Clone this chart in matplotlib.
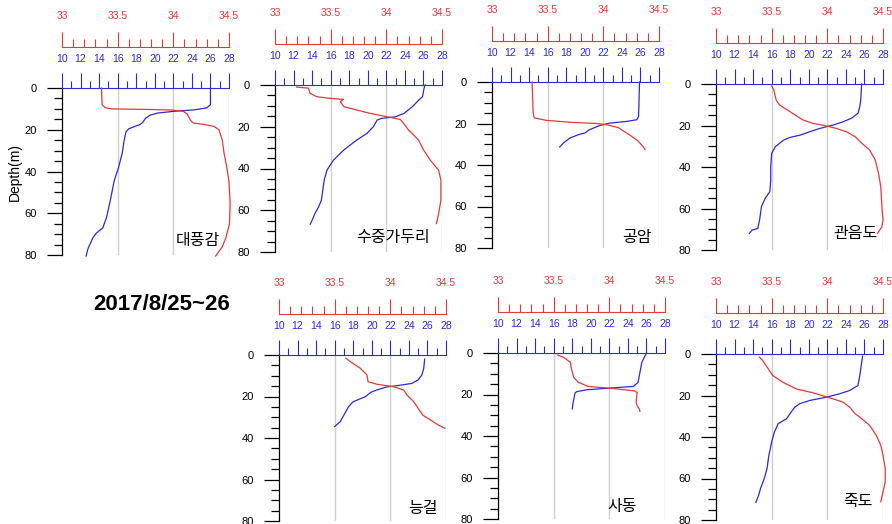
import matplotlib
matplotlib.use('Agg')
import matplotlib.pyplot as plt
from matplotlib.ticker import MultipleLocator

plt.rcParams['font.family'] = ['Liberation Sans', 'Noto Sans CJK KR', 'DejaVu Sans']

# Profiles: depth (m), temperature (degC), salinity (psu)
STATIONS = ['대풍감', '수중가두리', '공암', '관음도', '능걸', '사동', '죽도']

dep_t_daepung = [0, 8, 9.5, 10.5, 11.2, 12.0, 13, 14.5, 16.5, 17.5, 18.5, 19.5, 21, 25, 31, 38, 42, 45, 54, 62, 67, 69.5, 72, 77, 80.5]
temp_daepung = [26.0, 26.0, 25.6, 24.2, 22.0, 20.3, 19.5, 19.0, 18.7, 18.4, 17.8, 17.2, 16.9, 16.7, 16.5, 16.1, 15.8, 15.6, 15.2, 14.8, 14.4, 13.7, 13.3, 12.8, 12.6]
dep_s_daepung = [0, 8, 9.5, 10.0, 10.3, 10.6, 11.2, 12.5, 14, 15.5, 16.8, 17.5, 18.4, 20, 25, 31, 38, 45, 55, 65, 72, 76, 80.5]
sal_daepung = [33.355, 33.36, 33.39, 33.45, 33.8, 34.0, 34.09, 34.125, 34.14, 34.155, 34.18, 34.28, 34.365, 34.41, 34.44, 34.455, 34.48, 34.5, 34.51, 34.505, 34.47, 34.44, 34.38]

dep_t_sujung = [0, 0.8, 5.6, 7.2, 10.4, 13.6, 15.2, 16, 16.8, 20, 23.2, 26.4, 31.2, 36, 40.8, 45.6, 52, 55.2, 58.4, 61.6, 64.8, 66.7]
temp_sujung = [26.2, 26.1, 25.9, 25.5, 24.8, 23.9, 23.0, 21.5, 21.0, 20.6, 19.9, 18.8, 17.4, 16.3, 15.6, 15.3, 15.1, 15.0, 14.7, 14.3, 14.0, 13.8]
dep_s_sujung = [1, 1.5, 4, 5.6, 6.4, 6.9, 8, 10.4, 12, 13.6, 15.2, 16.5, 18.4, 21.6, 26.4, 31.2, 36, 40.8, 45.6, 55.2, 61.6, 66.4]
sal_sujung = [33.195, 33.3, 33.315, 33.375, 33.495, 33.615, 33.585, 33.62, 33.735, 33.855, 34.005, 34.125, 34.155, 34.2, 34.29, 34.335, 34.395, 34.47, 34.49, 34.49, 34.47, 34.45]

dep_t_gongam = [0, 16.5, 18.2, 19, 19.8, 21, 23, 24.6, 25.4, 27, 29.4, 31.3]
temp_gongam = [25.9, 25.8, 25.6, 24.5, 22.7, 21.6, 20.5, 20.0, 19.3, 18.4, 17.7, 17.3]
dep_s_gongam = [0, 15, 17.3, 18.5, 19.4, 20, 20.6, 22, 24.6, 26.2, 28.6, 31, 32.6]
sal_gongam = [33.36, 33.37, 33.38, 33.49, 33.70, 33.94, 34.03, 34.135, 34.21, 34.255, 34.315, 34.355, 34.375]

dep_t_gwaneum = [0, 7.7, 10.9, 14.1, 16.5, 18.2, 19.8, 21.4, 23, 24.6, 25.7, 27, 30.2, 33.4, 39.8, 46.3, 51.9, 55.1, 59.1, 65.5, 69.6, 70.4, 72]
temp_gwaneum = [25.7, 25.6, 25.5, 25.3, 24.6, 23.7, 22.6, 21.2, 20.1, 19.1, 18.0, 17.3, 16.4, 16.0, 15.9, 15.9, 15.8, 15.3, 14.9, 14.7, 14.5, 13.9, 13.6]
dep_s_gwaneum = [1, 2.9, 7.7, 10.1, 12.5, 14.9, 17.3, 19, 20.2, 21.4, 23, 25.4, 28.6, 31.8, 36.6, 43.1, 49.5, 59.1, 65.5, 68.8, 72]
sal_gwaneum = [33.50, 33.52, 33.54, 33.57, 33.64, 33.71, 33.78, 33.87, 33.99, 34.08, 34.17, 34.25, 34.31, 34.38, 34.43, 34.46, 34.48, 34.49, 34.50, 34.49, 34.45]

dep_t_neunggeol = [2, 6.4, 9.6, 12, 13.7, 14.8, 15.4, 16.9, 18, 20.1, 22.5, 24.9, 28.1, 29.7, 32.1, 34.5]
temp_neunggeol = [25.7, 25.6, 25.4, 25.0, 24.3, 22.7, 21.6, 20.5, 19.9, 19.3, 18.0, 17.5, 17.1, 16.9, 16.6, 16.0]
dep_s_neunggeol = [1.5, 3.2, 6.4, 9.6, 12.9, 14.1, 15.3, 16.9, 19.3, 22.5, 25.7, 28.9, 31.3, 33.7, 35.3]
sal_neunggeol = [33.60, 33.64, 33.73, 33.79, 33.80, 33.88, 34.03, 34.12, 34.15, 34.21, 34.25, 34.29, 34.36, 34.43, 34.49]

dep_t_sadong = [0, 4.5, 9.3, 14.1, 16.1, 16.9, 17.7, 18.6, 19.3, 23.8, 27]
temp_sadong = [26.0, 25.5, 25.3, 25.1, 24.6, 22.1, 19.6, 18.5, 18.3, 18.1, 18.0]
dep_s_sadong = [1, 2.1, 4.5, 7.7, 11.7, 14.1, 16.1, 17, 18.2, 19, 23.8, 25.4, 27, 28.1]
sal_sadong = [33.535, 33.59, 33.65, 33.66, 33.68, 33.72, 33.81, 34.01, 34.22, 34.25, 34.24, 34.25, 34.27, 34.275]

dep_t_jukdo = [1, 4, 10.4, 15.2, 17.6, 19.2, 20.8, 22.4, 24, 25.6, 28, 31.2, 33.6, 37.6, 42.4, 48.8, 55.2, 60, 64.8, 68, 71.5]
temp_jukdo = [25.8, 25.7, 25.5, 25.3, 24.4, 23.3, 21.9, 20.1, 19.0, 18.5, 18.1, 17.6, 16.7, 16.3, 16.0, 15.7, 15.5, 15.2, 14.8, 14.6, 14.3]
dep_s_jukdo = [1.5, 3.2, 7.2, 10.4, 13.6, 16.8, 18.7, 20, 21.6, 23.2, 25.6, 28.8, 31.2, 34.4, 39.2, 44, 48.8, 55.2, 61.6, 66.4, 71.2]
sal_jukdo = [33.39, 33.42, 33.47, 33.51, 33.60, 33.72, 33.87, 33.95, 34.05, 34.14, 34.20, 34.25, 34.31, 34.38, 34.44, 34.48, 34.50, 34.52, 34.52, 34.50, 34.48]

SAL_TICKS = [33, 33.5, 34, 34.5]
SAL_LABELS = ['33', '33.5', '34', '34.5']
TEMP_TICKS = [10, 12, 14, 16, 18, 20, 22, 24, 26, 28]
DEPTH_TICKS = [0, 20, 40, 60, 80]
DATE_TEXT = '2017/8/25~26'

BLUE = '#2b2bd0'
RED = '#e03a3a'
W, H = 892, 524

fig = plt.figure(figsize=(W / 100, H / 100), dpi=100)


def panel(px, name, dep_t, temp, dep_s, sal, name_pos, ylabel=False):
    x0, y0, y80 = px
    ax = fig.add_axes([x0 / W, 1 - y80 / H, 167 / W, (y80 - y0) / H])
    ax2 = ax.twiny()  # salinity axis (twiny moves ax ticks to the bottom, so fix after)

    ax.set_xlim(10, 28)
    ax.set_ylim(80, 0)
    for v in (16, 22, 28):
        ax.axvline(v, color='#cfcfcf', lw=1.0, zorder=0)
    ax.plot(temp, dep_t, color=BLUE, lw=0.9, clip_on=False)

    ax.spines['bottom'].set_visible(False)
    ax.spines['right'].set_visible(False)
    ax.spines['top'].set_color(BLUE)
    ax.spines['left'].set_linewidth(0.9)
    ax.xaxis.tick_top()
    ax.set_xticks(TEMP_TICKS)
    ax.xaxis.set_minor_locator(MultipleLocator(1))
    ax.tick_params(axis='x', which='major', length=11, width=0.8, color=BLUE,
                   labelcolor=BLUE, labelsize=7.5, pad=6.5)
    ax.tick_params(axis='x', which='minor', length=5, width=0.8, color=BLUE)
    ax.set_yticks(DEPTH_TICKS)
    ax.yaxis.set_minor_locator(MultipleLocator(5))
    ax.tick_params(axis='y', which='major', length=11, width=0.9, labelsize=8, pad=7)
    ax.tick_params(axis='y', which='minor', length=6, width=0.9)
    if ylabel:
        ax.set_ylabel('Depth(m)', fontsize=10, labelpad=2)

    ax.text(name_pos[0], name_pos[1], name, ha='right', va='center', fontsize=11.5,
            family=['Noto Sans CJK KR'])

    ax2.set_xlim(33, 34.5)
    ax2.plot(sal, dep_s, color=RED, lw=0.9, clip_on=False)
    for s in ('left', 'right', 'bottom'):
        ax2.spines[s].set_visible(False)
    ax2.spines['top'].set_position(('outward', 29.5))
    ax2.spines['top'].set_color(RED)
    ax2.set_xticks(SAL_TICKS)
    ax2.set_xticklabels(SAL_LABELS)
    ax2.xaxis.set_minor_locator(MultipleLocator(0.1))
    ax2.tick_params(axis='x', which='major', length=11, width=0.8, color=RED,
                    labelcolor=RED, labelsize=7.5, pad=7.5)
    ax2.tick_params(axis='x', which='minor', length=5.5, width=0.8, color=RED)
    return ax


panel((62, 88, 255), STATIONS[0], dep_t_daepung, temp_daepung, dep_s_daepung, sal_daepung, (27.0, 73), ylabel=True)
panel((275, 85, 252), STATIONS[1], dep_t_sujung, temp_sujung, dep_s_sujung, sal_sujung, (26.7, 73))
panel((492, 82, 248), STATIONS[2], dep_t_gongam, temp_gongam, dep_s_gongam, sal_gongam, (27.2, 75))
panel((716, 84, 250), STATIONS[3], dep_t_gwaneum, temp_gwaneum, dep_s_gwaneum, sal_gwaneum, (27.4, 72))
panel((279, 355, 521), STATIONS[4], dep_t_neunggeol, temp_neunggeol, dep_s_neunggeol, sal_neunggeol, (27.1, 74))
panel((498, 353, 519), STATIONS[5], dep_t_sadong, temp_sadong, dep_s_sadong, sal_sadong, (25.0, 74))
panel((716, 354, 520), STATIONS[6], dep_t_jukdo, temp_jukdo, dep_s_jukdo, sal_jukdo, (26.9, 71))

fig.text(162 / W, 1 - 304 / H, DATE_TEXT, ha='center', va='center',
         fontsize=16, fontweight='bold')

fig.savefig('out.png', dpi=100)
